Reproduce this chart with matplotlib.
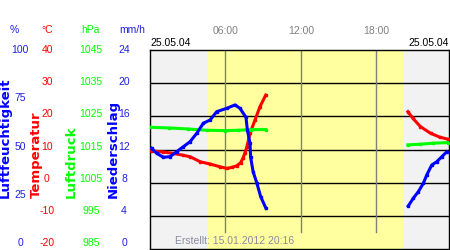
import numpy as np
import matplotlib.pyplot as plt

plt.rcParams['font.family'] = ['Liberation Sans', 'DejaVu Sans']

# -----------------------------
# Data
# -----------------------------
# morning segment (hours since midnight)
temp_t1 = [0.13, 1.0, 1.85, 2.6, 3.2, 4.0, 4.8, 5.56, 6.1, 6.5, 6.9, 7.2, 7.4, 7.55, 7.7, 7.95, 8.35, 8.74, 9.2]
temp_v1 = [9.5, 9.3, 8.8, 8.3, 7.8, 6.3, 5.6, 4.8, 4.3, 4.6, 5.1, 6.0, 7.4, 9.0, 10.8, 14.9, 18.9, 22.9, 26.4]
pres_t1 = [0.0, 1.5, 3.0, 4.5, 6.0, 7.0, 8.0, 9.2]
pres_v1 = [1021.7, 1021.5, 1021.2, 1020.8, 1020.7, 1020.8, 1021.0, 1021.0]
hum_t1 = [0.13, 0.53, 1.06, 1.59, 2.12, 2.65, 3.18, 3.71, 4.24, 4.77, 5.3, 6.1,
          6.76, 7.15, 7.63, 7.74, 7.95, 8.0, 8.2, 8.5, 8.8, 9.22]
hum_v1 = [50.6, 48.1, 46.1, 46.4, 48.9, 51.4, 53.9, 58.1, 63.2, 64.8, 69.0, 70.7,
          72.4, 70.7, 66.2, 59.8, 53.1, 46.1, 38.8, 33.0, 26.3, 20.4]

# evening segment
temp_t2 = [20.5, 20.9, 21.5, 22.3, 23.05, 23.7]
temp_v2 = [21.4, 19.4, 16.9, 14.9, 13.7, 13.1]
pres_t2 = [20.5, 21.5, 22.5, 23.7]
pres_v2 = [1016.4, 1016.6, 1016.9, 1017.1]
hum_t2 = [20.53, 20.93, 21.33, 21.73, 22.0, 22.4, 22.8, 23.2, 23.6]
hum_v2 = [21.6, 25.5, 28.8, 33.0, 37.2, 42.2, 43.9, 46.4, 48.9]

# axis scales (top to bottom)
hum_ticks = [100, 75, 50, 25, 0]
temp_ticks = [40, 30, 20, 10, 0, -10, -20]
pres_ticks = [1045, 1035, 1025, 1015, 1005, 995, 985]
rain_ticks = [24, 20, 16, 12, 8, 4, 0]
hour_ticks = [6, 12, 18]
hour_labels = ["06:00", "12:00", "18:00"]
day_start, day_end = 4.58, 20.1
date_label = "25.05.04"
created = "Erstellt: 15.01.2012 20:16"

BLUE = "#0000ff"
RED = "#ff0000"
GREEN = "#00ff00"
TXT_BLUE = "#2020e0"

# -----------------------------
# Figure / main axes
# -----------------------------
W, H = 450, 250
fig = plt.figure(figsize=(4.5, 2.5), dpi=100)
ax = fig.add_axes([150 / W, 1 / H, 299 / W, 199 / H])
ax.set_xlim(0, 23.77)
ax.set_ylim(-20, 40)
ax.set_facecolor("#f2f2f2")
ax.axvspan(day_start, day_end, color="#ffffa0", lw=0, zorder=0)

for y in [-10, 0, 10, 20, 30]:
    ax.axhline(y, color="black", lw=1, zorder=1)
for x in hour_ticks:
    ax.axvline(x, ymin=17 / 199, ymax=1, color="#808080", lw=1, zorder=1)

ax.xaxis.tick_top()
ax.set_xticks(hour_ticks)
ax.set_xticklabels(hour_labels, color="#808080", fontsize=7.5)
ax.tick_params(axis="x", length=0, pad=10)
ax.set_yticks([])
for s in ax.spines.values():
    s.set_color("black")
    s.set_linewidth(1)

# temperature
ax.plot(temp_t1, temp_v1, color=RED, lw=2.2, marker="s", ms=2, zorder=3)
ax.plot(temp_t2, temp_v2, color=RED, lw=2.2, marker="s", ms=2, zorder=3)

# pressure
ax_p = ax.twinx()
ax_p.set_ylim(985, 1045)
ax_p.axis("off")
ax_p.plot(pres_t1, pres_v1, color=GREEN, lw=2.2, marker="s", ms=2)
ax_p.plot(pres_t2, pres_v2, color=GREEN, lw=2.2, marker="s", ms=2)

# humidity
ax_h = ax.twinx()
ax_h.set_ylim(0, 100)
ax_h.axis("off")
ax_h.plot(hum_t1, hum_v1, color=BLUE, lw=2.2, marker="s", ms=2)
ax_h.plot(hum_t2, hum_v2, color=BLUE, lw=2.2, marker="s", ms=2)

fig.text(175 / W, 1 - 241 / H, created, color="#8a8aa0", fontsize=7.5, va="center", ha="left")

# dates above plot
fig.text(150 / W, 1 - 43 / H, date_label, fontsize=7.5, va="center", ha="left")
fig.text(449 / W, 1 - 43 / H, date_label, fontsize=7.5, va="center", ha="right")

# -----------------------------
# Left scale labels
# -----------------------------
lab = fig.add_axes([0, 7 / H, 1, 193 / H])
lab.axis("off")
lab.set_xlim(0, W)
lab.set_ylim(0, 6)

def scale_labels(ticks, x, color):
    lo, hi = ticks[-1], ticks[0]
    for v in ticks:
        lab.text(x, (v - lo) / (hi - lo) * 6, str(v), color=color,
                 fontsize=7.5, ha="center", va="center")

scale_labels(hum_ticks, 20, TXT_BLUE)
scale_labels(temp_ticks, 47, RED)
scale_labels(pres_ticks, 91, GREEN)
scale_labels(rain_ticks, 124, TXT_BLUE)

units = [("%", 14, TXT_BLUE), ("°C", 47, RED), ("hPa", 90, GREEN), ("mm/h", 132, TXT_BLUE)]
for txt, x, c in units:
    fig.text(x / W, 1 - 30 / H, txt, color=c, fontsize=7.5, ha="center", va="center")

names = [("Luftfeuchtigkeit", 5, BLUE), ("Temperatur", 36, RED),
         ("Luftdruck", 71, GREEN), ("Niederschlag", 113, BLUE)]
for txt, x, c in names:
    fig.text(x / W, 1 - 198 / H, txt, color=c, fontsize=9.5, fontweight="bold",
             family="DejaVu Sans", rotation=90, ha="center", va="bottom")

fig.savefig("out.png", dpi=100)
